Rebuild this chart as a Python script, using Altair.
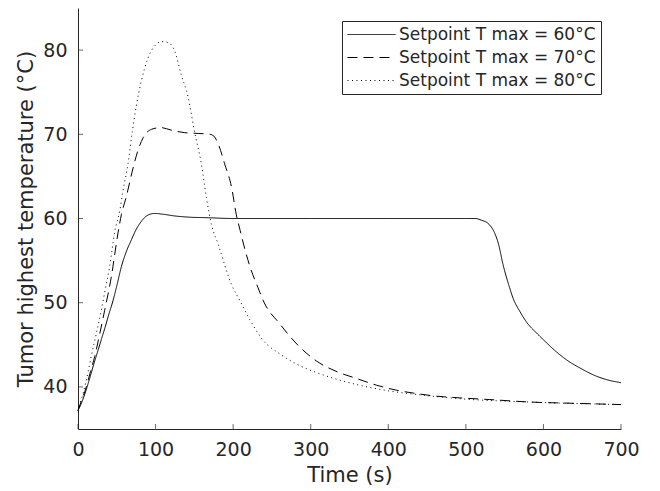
import altair as alt
import pandas as pd

series_names = ["Setpoint T max = 60°C", "Setpoint T max = 70°C", "Setpoint T max = 80°C"]

time_60 = [0, 5, 10, 15, 20, 25, 30, 35, 40, 45, 50, 56, 62, 69, 75, 82, 90, 99, 110, 125, 145, 165,
           200, 300, 400, 500, 512, 520, 530, 537, 542, 548, 555, 561, 570, 579, 590, 600, 615, 630,
           650, 665, 680, 700]
temp_60 = [37.2, 38.2, 39.5, 41.0, 42.6, 44.1, 45.6, 47.1, 48.7, 50.2, 52.0, 54.3, 56.0, 57.5, 58.7,
           59.7, 60.4, 60.6, 60.5, 60.3, 60.15, 60.1, 60.0, 60.0, 60.0, 60.0, 60.0, 59.8, 59.3, 58.3,
           57.0, 54.5, 52.2, 50.5, 48.9, 47.6, 46.5, 45.6, 44.3, 43.2, 42.1, 41.4, 40.9, 40.5]

time_70 = [0, 5, 10.7, 16, 21.5, 28, 34.4, 43, 51.6, 56, 62, 71, 77, 84, 95, 107, 120, 137, 155, 170,
           175, 181, 189, 198, 204, 209, 215, 222, 232, 239, 260, 282, 307, 334, 359, 385, 411, 437,
           462, 492, 530, 583, 640, 700]
temp_70 = [37.2, 38.5, 40.0, 41.8, 43.6, 46.3, 49.1, 53.1, 58.3, 60.5, 62.5, 66.0, 68.0, 69.6, 70.6,
           70.8, 70.5, 70.2, 70.1, 70.0, 69.8, 68.8, 66.5, 63.7, 60.5, 58.6, 56.4, 54.2, 51.8, 50.2,
           47.5, 45.1, 43.1, 41.8, 41.0, 40.2, 39.6, 39.2, 38.9, 38.7, 38.5, 38.2, 38.05, 37.9]

time_80 = [0, 4, 10, 17, 24, 30, 35, 40.8, 47.3, 54, 58, 64.5, 70, 75, 81.6, 90, 99, 107.5, 116, 124.6,
           133, 142, 150, 159, 165.5, 172, 180.5, 197.7, 209, 222, 239, 260.5, 282, 307.5, 337.6,
           367.6, 402.6, 437, 492, 583, 700]
temp_80 = [37.2, 38.4, 40.5, 43.6, 46.5, 49.1, 51.5, 54.3, 58.4, 61.0, 63.3, 66.5, 70.3, 73.3, 76.3,
           79.0, 80.5, 81.0, 80.9, 79.9, 77.1, 74.4, 70.4, 66.5, 62.5, 59.3, 57.0, 52.2, 50.2, 47.9,
           45.5, 43.9, 42.7, 41.7, 40.8, 40.1, 39.5, 39.1, 38.6, 38.2, 37.9]

x_ticks = [0, 100, 200, 300, 400, 500, 600, 700]
y_ticks = [40, 50, 60, 70, 80]

frames = []
for name, ts, vs in zip(series_names, [time_60, time_70, time_80], [temp_60, temp_70, temp_80]):
    frames.append(pd.DataFrame({"time": ts, "temp": vs, "series": name}))
df = pd.concat(frames, ignore_index=True)

xticks_df = pd.DataFrame({"t": x_ticks, "base": 35})
yticks_df = pd.DataFrame({"v": y_ticks, "base": 0})

FONT = "DejaVu Sans"
AX = "#262626"

xscale = alt.Scale(domain=[0, 700], nice=False, zero=False)
yscale = alt.Scale(domain=[35, 85], nice=False, zero=False)

lines = alt.Chart(df).mark_line(color="black", strokeWidth=1, interpolate="monotone").encode(
    x=alt.X("time:Q", scale=xscale,
            axis=alt.Axis(values=x_ticks, title="Time (s)", labelPadding=11, titlePadding=5,
                          labelFlush=False)),
    y=alt.Y("temp:Q", scale=yscale,
            axis=alt.Axis(values=y_ticks, title="Tumor highest temperature (°C)", labelPadding=11,
                          titlePadding=6)),
    strokeDash=alt.StrokeDash(
        "series:N",
        scale=alt.Scale(domain=series_names, range=[[1, 0], [10, 6], [1, 3.5]]),
        legend=alt.Legend(
            title=None, orient="none", legendX=264, legendY=13,
            padding=5, strokeColor=AX, fillColor="white",
            labelFont=FONT, labelFontSize=17, labelColor=AX, labelLimit=400,
            symbolType="M-1,0H5", symbolSize=256, symbolStrokeWidth=1,
            symbolStrokeColor="black", labelOffset=35, rowPadding=5,
        ),
    ),
    order=alt.Order("time:Q"),
)

xtick_marks = alt.Chart(xticks_df).mark_tick(
    orient="vertical", size=5, thickness=1, color=AX, yOffset=-2.5
).encode(
    x=alt.X("t:Q", scale=xscale),
    y=alt.Y("base:Q", scale=yscale),
)

ytick_marks = alt.Chart(yticks_df).mark_tick(
    orient="horizontal", size=5, thickness=1, color=AX, xOffset=2.5
).encode(
    x=alt.X("base:Q", scale=xscale),
    y=alt.Y("v:Q", scale=yscale),
)

chart = alt.layer(lines, xtick_marks, ytick_marks).properties(
    width=543, height=421,
    autosize=alt.AutoSizeParams(type="none"),
    padding={"left": 70, "top": 0, "right": 30, "bottom": 60},
).configure_view(stroke=None).configure_axis(
    grid=False, ticks=False, tickSize=0, domainColor=AX, domainWidth=1,
    labelFont=FONT, labelFontSize=19, labelColor=AX,
    titleFont=FONT, titleFontSize=21, titleFontWeight="normal", titleColor=AX,
)

chart.save("out.html", embed_options={"renderer": "svg", "actions": False})
